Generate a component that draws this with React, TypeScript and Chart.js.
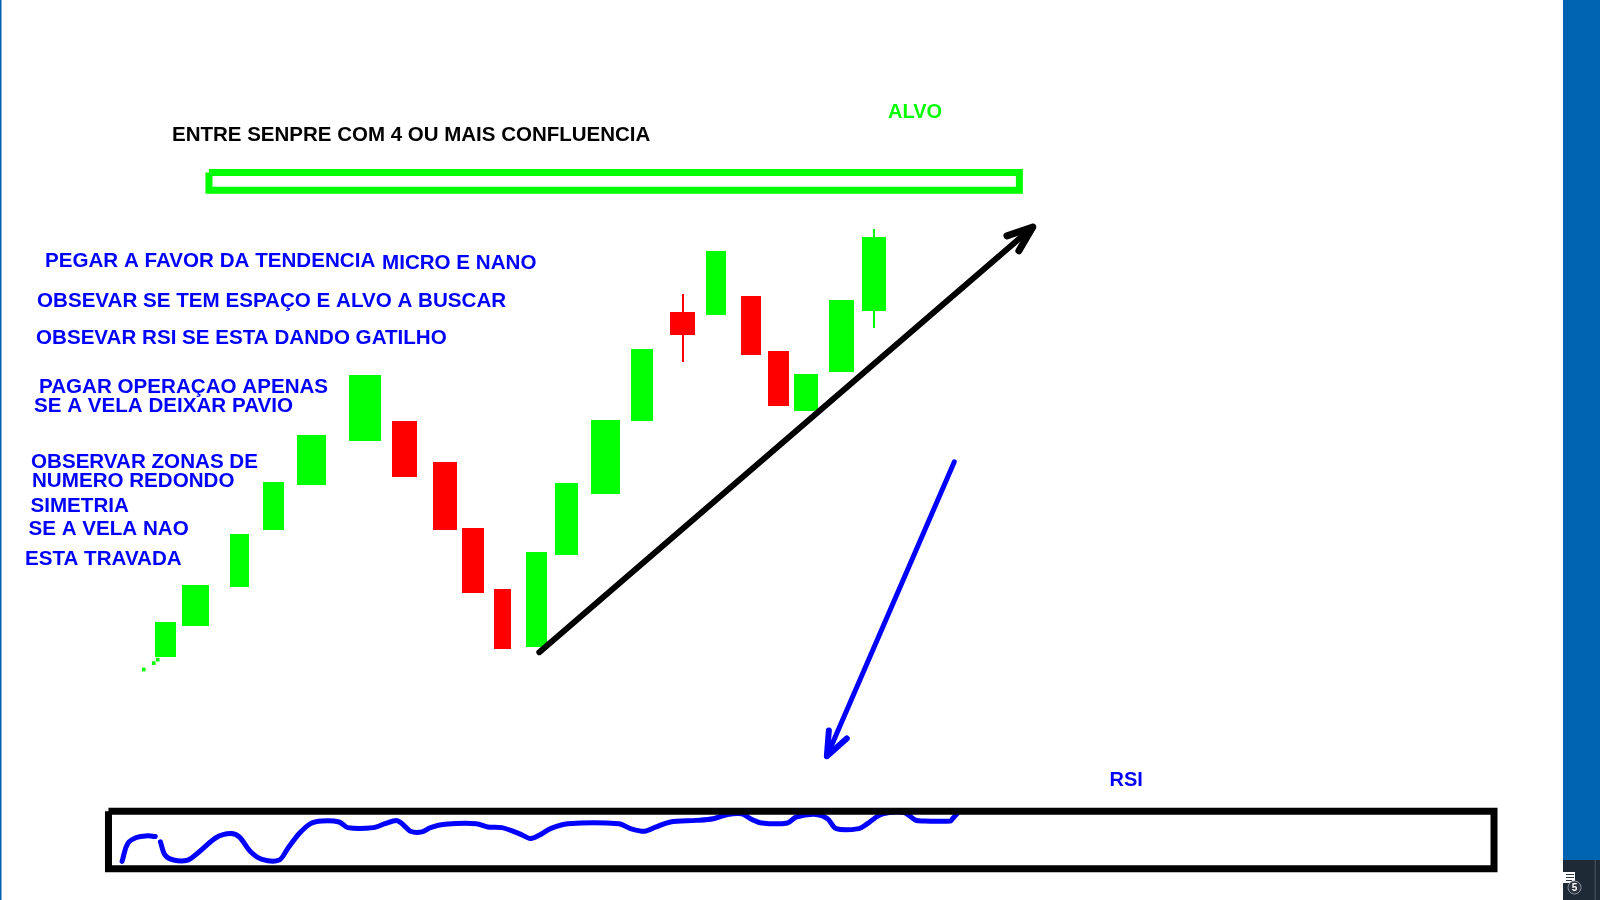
import React, { useEffect, useRef } from "react";
import { Chart, registerables } from "chart.js";

Chart.register(...registerables);

// ---- Candles (time = horizontal position, price = vertical value) ----
const candleLeft = [152, 179, 227, 260, 294, 347, 390, 431, 460, 492, 525, 554, 590, 630, 669, 706, 741, 768, 794, 829, 862];
const candleRight = [173, 206, 246, 281, 324, 379, 415, 455, 482, 510, 546, 577, 619, 652, 694, 726, 761, 789, 818, 854, 886];
const candleOpen = [241, 272, 312, 369, 415, 459, 479, 438, 371, 310, 251, 344, 406, 479, 589, 586, 605, 550, 489, 529, 590];
const candleClose = [276, 314, 365, 418, 465, 526, 423, 369, 306, 249, 347, 417, 480, 552, 566, 651, 546, 494, 527, 601, 665];
const candleHigh = [276, 314, 365, 418, 465, 526, 479, 438, 371, 310, 347, 417, 480, 552, 607, 651, 605, 550, 527, 601, 673];
const candleLow = [241, 272, 312, 369, 415, 459, 423, 369, 306, 249, 251, 344, 406, 479, 539, 586, 546, 494, 489, 529, 573];

// ---- Small green ticks before the first candle ----
const dotX = [140.5, 150.5, 154.5];
const dotY = [228.5, 235, 238.5];

// ---- Target zone (ALVO) ----
const targetX = [206, 1020.5, 1020.5, 206, 206];
const targetY = [730, 730, 712, 712, 730];

// ---- Trend arrow ----
const trendX = [538, 1034];
const trendY = [246, 675];
const trendHeadX = [1008, 1034, 1020];
const trendHeadY = [666, 675, 651];

// ---- Blue arrow down to RSI ----
const rsiArrowX = [955, 827];
const rsiArrowY = [438, 141];
const rsiHeadX = [829, 827, 847];
const rsiHeadY = [167, 141, 159];

// ---- RSI box ----
const rsiBoxX = [105, 1497.5, 1497.5, 105, 105];
const rsiBoxY = [85.5, 85.5, 27.5, 27.5, 85.5];

// ---- RSI hand-drawn line ----
const rsiAX = [118.7, 124.4, 133.1, 144.5, 152];
const rsiAY = [35, 53, 59, 60.7, 60];
const rsiBX = [157.2, 161.8, 170.4, 184.7, 196.2, 213.4, 227.8, 236.4, 247.9, 259.3, 276.6, 285.2, 296.7, 308.1, 319.6, 336.8, 345.5, 371.3, 382.8, 394.3, 400, 408.6, 420.1, 428.7, 443, 474.6, 486.1, 500.4, 517.7, 529.2, 537.8, 549.2, 566.5, 618.1, 629.6, 644, 655.4, 669.8, 695.6, 712.8, 727.2, 741.5, 750.2, 761.6, 787.5, 796.1, 816.2, 827.7, 836.3, 859.2, 867.8, 879.3, 893.7, 905.2, 916.6, 925.3, 951.1, 953.9, 957.9];
const rsiBY = [54.7, 41.3, 36.3, 36.3, 44.7, 59, 63, 59.7, 44.7, 37, 36.3, 48, 63, 73, 75.7, 74.7, 69, 69, 73, 76.3, 73, 65.3, 64.7, 69, 72.3, 73, 69.7, 69, 63, 58, 61.3, 68, 73, 73, 68, 65.3, 69.7, 74.7, 76.3, 78, 82.3, 83, 78, 73.7, 73.7, 79.7, 82.3, 78, 68, 68, 73, 81.3, 84.7, 84, 76.3, 75.7, 75.7, 78.7, 83];

// ---- Texts ----
const titleText = "ENTRE SENPRE COM 4 OU MAIS CONFLUENCIA";
const targetLabel = "ALVO";
const rsiLabel = "RSI";
const notes = [
  "PEGAR A FAVOR DA TENDENCIA",
  "MICRO E NANO",
  "OBSEVAR SE TEM ESPAÇO E ALVO A BUSCAR",
  "OBSEVAR RSI SE ESTA DANDO GATILHO",
  "PAGAR OPERAÇAO APENAS",
  "SE A VELA DEIXAR PAVIO",
  "OBSERVAR ZONAS DE",
  "NUMERO REDONDO",
  "SIMETRIA",
  "SE A VELA NAO",
  "ESTA TRAVADA",
];

// layout of the note texts (left x, cap-centre y)
const noteLayout = [
  [45, 259.7],
  [382, 261.7],
  [37, 299.5],
  [36, 336.7],
  [39, 385.5],
  [34, 405],
  [31, 461],
  [32, 479.5],
  [30.5, 505],
  [28.5, 527.5],
  [25, 557.5],
];

const zip = (xs: number[], ys: number[]) => xs.map((x, i) => ({ x, y: ys[i] }));

const FONT = '"Liberation Sans", Arial, sans-serif';

export default function App() {
  const ref = useRef<HTMLCanvasElement | null>(null);

  useEffect(() => {
    const canvas = ref.current;
    if (!canvas) return;

    const bgPlugin = {
      id: "bg",
      beforeDraw(chart: any) {
        const { ctx, width, height } = chart;
        ctx.save();
        ctx.fillStyle = "#ffffff";
        ctx.fillRect(0, 0, width, height);
        ctx.restore();
      },
    };

    const candlePlugin = {
      id: "candles",
      beforeDatasetsDraw(chart: any) {
        const { ctx } = chart;
        const xs = chart.scales.x;
        const ys = chart.scales.y;
        ctx.save();
        for (let i = 0; i < candleOpen.length; i++) {
          const o = candleOpen[i];
          const c = candleClose[i];
          const color = c >= o ? "#00ff00" : "#ff0000";
          const xl = Math.round(xs.getPixelForValue(candleLeft[i]));
          const xr = Math.round(xs.getPixelForValue(candleRight[i]));
          const yt = Math.round(ys.getPixelForValue(Math.max(o, c)));
          const yb = Math.round(ys.getPixelForValue(Math.min(o, c)));
          ctx.fillStyle = color;
          ctx.fillRect(xl, yt, xr - xl, yb - yt);
          const cx = Math.round((xl + xr) / 2);
          const yh = Math.round(ys.getPixelForValue(candleHigh[i]));
          const yl = Math.round(ys.getPixelForValue(candleLow[i]));
          if (yh < yt) ctx.fillRect(cx - 1, yh, 2, yt - yh);
          if (yl > yb) ctx.fillRect(cx - 1, yb, 2, yl - yb);
        }
        ctx.restore();
      },
    };

    const textPlugin = {
      id: "texts",
      afterDatasetsDraw(chart: any) {
        const { ctx } = chart;
        ctx.save();
        ctx.textBaseline = "alphabetic";
        ctx.textAlign = "left";
        const cap = (size: number) => size * 0.716 / 2;
        // title
        ctx.font = `bold 20.5px ${FONT}`;
        ctx.fillStyle = "#000000";
        ctx.fillText(titleText, 172, 134 + cap(20.5));
        // target label
        ctx.font = `bold 20px ${FONT}`;
        ctx.fillStyle = "#00ff00";
        ctx.fillText(targetLabel, 888, 110.5 + cap(20));
        // notes
        ctx.fillStyle = "#0000ff";
        ctx.font = `bold 20.6px ${FONT}`;
        notes.forEach((t, i) => {
          const [x, y] = noteLayout[i];
          ctx.fillText(t, x, y + cap(20.6));
        });
        ctx.font = `bold 20px ${FONT}`;
        ctx.fillText(rsiLabel, 1109.5, 779 + cap(20));
        ctx.restore();
      },
      afterDraw(chart: any) {
        const { ctx } = chart;
        ctx.save();
        // left window edge
        ctx.fillStyle = "#0063b1";
        ctx.fillRect(0, 0, 1.5, 900);
        // right side panel
        ctx.fillStyle = "#0063b1";
        ctx.fillRect(1563, 0, 37, 860);
        ctx.fillStyle = "#1f2a37";
        ctx.fillRect(1563, 860, 37, 40);
        ctx.fillStyle = "#3b4754";
        ctx.fillRect(1594.5, 860, 1.5, 40);
        // notification icon
        ctx.fillStyle = "#ffffff";
        ctx.fillRect(1563, 872, 12, 11);
        ctx.fillStyle = "#2b3644";
        ctx.fillRect(1566, 874, 8, 1);
        ctx.fillRect(1566, 877, 8, 1);
        ctx.fillRect(1566, 880, 6, 1);
        ctx.beginPath();
        ctx.arc(1574.5, 887.5, 6.5, 0, Math.PI * 2);
        ctx.fillStyle = "#2a3440";
        ctx.fill();
        ctx.strokeStyle = "#8a939c";
        ctx.lineWidth = 1;
        ctx.stroke();
        ctx.fillStyle = "#ffffff";
        ctx.font = `bold 10px ${FONT}`;
        ctx.textAlign = "center";
        ctx.textBaseline = "middle";
        ctx.fillText("5", 1574.5, 888);
        ctx.restore();
      },
    };

    const line = (data: any[], color: string, width: number, extra: any = {}) => ({
      type: "scatter",
      data,
      showLine: true,
      borderColor: color,
      backgroundColor: color,
      borderWidth: width,
      pointRadius: 0,
      fill: false,
      tension: 0,
      borderCapStyle: "round",
      borderJoinStyle: "round",
      ...extra,
    });

    const chart = new Chart(canvas, {
      type: "scatter",
      data: {
        datasets: [
          line(zip(targetX, targetY), "#00ff00", 7, { borderCapStyle: "butt", borderJoinStyle: "miter" }),
          line(zip(rsiBoxX, rsiBoxY), "#000000", 7, { borderCapStyle: "butt", borderJoinStyle: "miter" }),
          line(zip(rsiAX, rsiAY), "#0000ff", 5, { tension: 0.4 }),
          line(zip(rsiBX, rsiBY), "#0000ff", 5, { tension: 0.3 }),
          line(zip(trendX, trendY), "#000000", 6),
          line(zip(trendHeadX, trendHeadY), "#000000", 7),
          line(zip(rsiArrowX, rsiArrowY), "#0000ff", 5),
          line(zip(rsiHeadX, rsiHeadY), "#0000ff", 6),
          {
            type: "scatter",
            data: zip(dotX, dotY),
            pointStyle: "rect",
            pointRadius: 2.6,
            borderWidth: 0,
            backgroundColor: "#00ff00",
            borderColor: "#00ff00",
          },
        ] as any,
      },
      options: {
        animation: false,
        responsive: false,
        maintainAspectRatio: false,
        devicePixelRatio: 1,
        events: [],
        layout: { padding: 0 },
        plugins: {
          legend: { display: false },
          tooltip: { enabled: false },
          title: { display: false },
        },
        scales: {
          x: { type: "linear", min: 0, max: 1600, display: false },
          y: { type: "linear", min: 0, max: 900, display: false },
        },
      } as any,
      plugins: [bgPlugin, candlePlugin, textPlugin] as any,
    });

    return () => chart.destroy();
  }, []);

  return (
    <div style={{ position: "absolute", left: 0, top: 0, width: 1600, height: 900, background: "#fff" }}>
      <canvas ref={ref} width={1600} height={900} style={{ display: "block", width: 1600, height: 900 }} />
    </div>
  );
}
